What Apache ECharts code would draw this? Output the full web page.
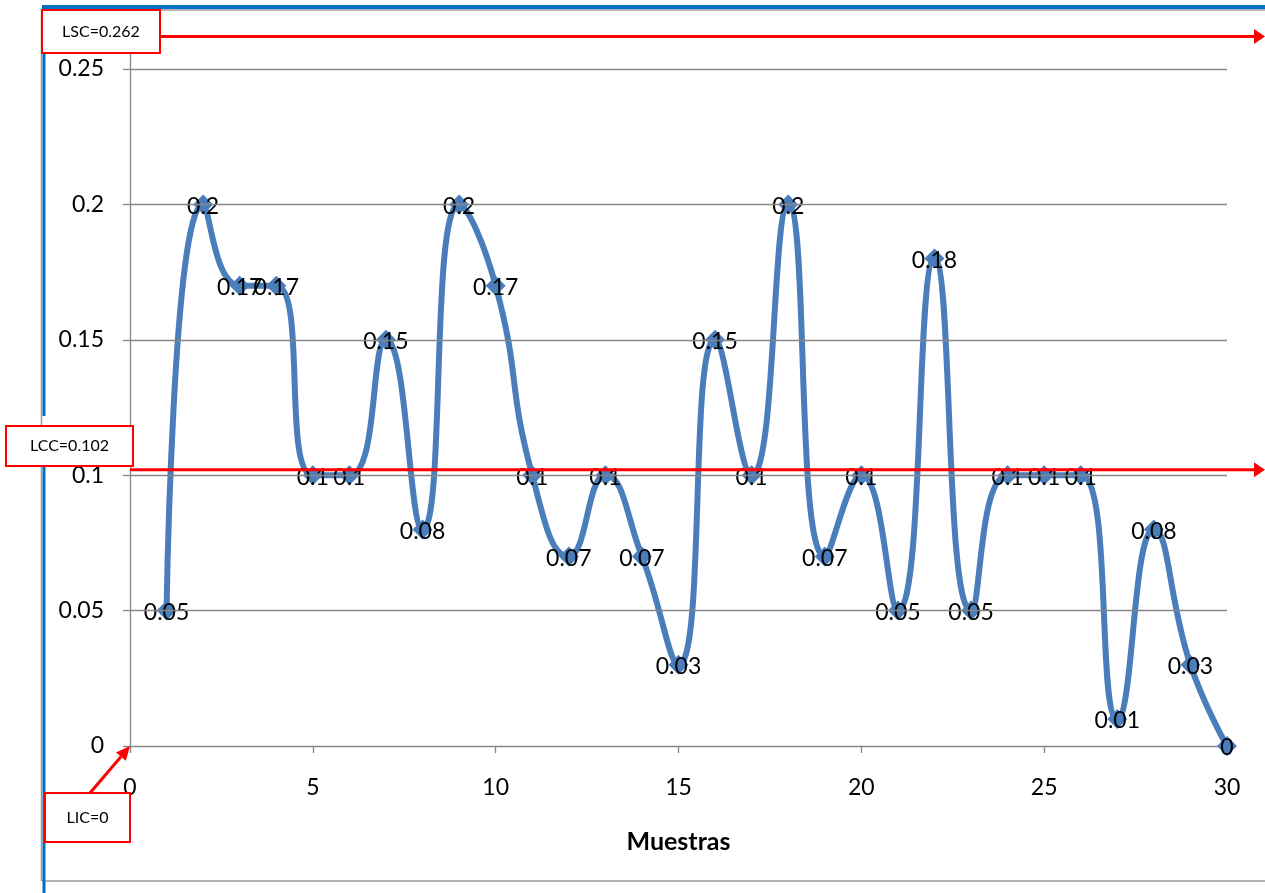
<!DOCTYPE html>
<html>
<head>
<meta charset="utf-8">
<title>Gráfico de control</title>
<script src="https://cdn.jsdelivr.net/npm/echarts@6/dist/echarts.min.js"></script>
<style>
  html, body { margin: 0; padding: 0; background: #ffffff; }
  #chart { width: 1265px; height: 893px; }
</style>
</head>
<body>
<div id="chart"></div>
<script>
// Muestras (eje X) y proporción observada en cada muestra
const muestras = [1, 2, 3, 4, 5, 6, 7, 8, 9, 10, 11, 12, 13, 14, 15,
                  16, 17, 18, 19, 20, 21, 22, 23, 24, 25, 26, 27, 28, 29, 30];
const proporciones = [0.05, 0.2, 0.17, 0.17, 0.1, 0.1, 0.15, 0.08, 0.2, 0.17,
                      0.1, 0.07, 0.1, 0.07, 0.03, 0.15, 0.1, 0.2, 0.07, 0.1,
                      0.05, 0.18, 0.05, 0.1, 0.1, 0.1, 0.01, 0.08, 0.03, 0];

// Límites de control
const limiteNombres = ['LSC', 'LCC', 'LIC'];
const limiteValores = [0.262, 0.102, 0];

// Escalas de los ejes
const ejeX = { min: 0, max: 30, interval: 5 };
const ejeY = { min: 0, max: 0.26, interval: 0.05 };
const lineasGuiaY = [0.05, 0.1, 0.15, 0.2, 0.25];

const FONT = 'Lato, "Liberation Sans", sans-serif';
const AZUL_SERIE = '#4A7EBB';
const ROJO = '#FF0000';
const GRIS = '#868686';

const chart = echarts.init(document.getElementById('chart'), null, { renderer: 'canvas' });

const puntos = muestras.map((m, i) => [m, proporciones[i]]);

chart.setOption({
  animation: false,
  backgroundColor: '#ffffff',
  textStyle: { fontFamily: FONT },
  grid: { left: 130, right: 38, top: 42, bottom: 147, containLabel: false },
  xAxis: {
    type: 'value',
    min: ejeX.min, max: ejeX.max, interval: ejeX.interval,
    name: 'Muestras',
    nameLocation: 'middle',
    nameGap: 83,
    nameTextStyle: { fontFamily: FONT, fontSize: 25, fontWeight: 'bold', color: '#000' },
    axisLine: { show: true, lineStyle: { color: GRIS, width: 1.3 } },
    axisTick: { show: true, length: 7, lineStyle: { color: GRIS, width: 1.3 } },
    splitLine: { show: false },
    axisLabel: { margin: 30, fontFamily: FONT, fontSize: 23, color: '#000' }
  },
  yAxis: {
    type: 'value',
    min: ejeY.min, max: ejeY.max, interval: ejeY.interval,
    axisLine: { show: true, lineStyle: { color: GRIS, width: 1.3 } },
    axisTick: { show: true, length: 7, lineStyle: { color: GRIS, width: 1.3 } },
    splitLine: { show: false },
    axisLabel: {
      margin: 26, fontFamily: FONT, fontSize: 23, color: '#000',
      showMaxLabel: false,
      formatter: v => String(+v.toFixed(2))
    }
  },
  series: [
    {
      // líneas de división horizontales
      name: 'guias',
      type: 'line',
      data: [],
      silent: true,
      z: 1,
      markLine: {
        silent: true,
        symbol: ['none', 'none'],
        label: { show: false },
        lineStyle: { color: GRIS, width: 1.3, type: 'solid' },
        data: lineasGuiaY.map(v => ({ yAxis: v }))
      }
    },
    {
      name: 'Proporción',
      type: 'line',
      data: puntos,
      smooth: 0.5,
      z: 3,
      symbol: 'diamond',
      symbolSize: [20, 20],
      showAllSymbol: true,
      lineStyle: { color: AZUL_SERIE, width: 6 },
      itemStyle: { color: AZUL_SERIE, borderWidth: 0 },
      label: {
        show: true,
        position: 'inside',
        offset: [0, 2],
        fontFamily: FONT,
        fontSize: 23,
        color: '#000',
        formatter: p => String(p.value[1])
      }
    }
  ]
});

// Anotaciones: marco, recuadros de límites y flechas
function construirAnotaciones() {
  const px = v => chart.convertToPixel({ xAxisIndex: 0 }, v);
  const py = v => chart.convertToPixel({ yAxisIndex: 0 }, v);
  const x0 = px(0);
  const xFin = 1265;
  const el = [];

  // marco del gráfico
  el.push({ type: 'line', shape: { x1: 41.5, y1: 9, x2: 41.5, y2: 881 }, style: { stroke: '#9a9a9a', lineWidth: 1.5 }, z: 50 });
  el.push({ type: 'line', shape: { x1: 42, y1: 10, x2: 1265, y2: 10 }, style: { stroke: '#9a9a9a', lineWidth: 1.5 }, z: 50 });
  el.push({ type: 'line', shape: { x1: 42, y1: 881, x2: 1265, y2: 881 }, style: { stroke: '#9a9a9a', lineWidth: 1.5 }, z: 50 });
  el.push({ type: 'line', shape: { x1: 42, y1: 7, x2: 1265, y2: 7 }, style: { stroke: '#0070C0', lineWidth: 4 }, z: 51 });
  el.push({ type: 'line', shape: { x1: 44, y1: 5, x2: 44, y2: 416 }, style: { stroke: '#0070C0', lineWidth: 3 }, z: 51 });
  el.push({ type: 'line', shape: { x1: 44, y1: 466, x2: 44, y2: 893 }, style: { stroke: '#0070C0', lineWidth: 3 }, z: 51 });

  // líneas horizontales LSC y LCC con punta de flecha
  [0, 1].forEach(i => {
    const y = py(limiteValores[i]);
    el.push({ type: 'line', shape: { x1: x0, y1: y, x2: xFin - 10, y2: y }, style: { stroke: ROJO, lineWidth: 3 }, z: 60 });
    el.push({ type: 'polygon', shape: { points: [[xFin - 11, y - 7.5], [xFin, y], [xFin - 11, y + 7.5]] }, style: { fill: ROJO }, z: 60 });
  });

  // flecha de LIC hacia el origen
  const oX = px(0), oY = py(limiteValores[2]);
  const sX = 90, sY = 793;
  const ang = Math.atan2(oY - sY, oX - sX);
  const hl = 14, hw = 6.5;
  const bx = oX - hl * Math.cos(ang), by = oY - hl * Math.sin(ang);
  el.push({ type: 'line', shape: { x1: sX, y1: sY, x2: bx, y2: by }, style: { stroke: ROJO, lineWidth: 3 }, z: 60 });
  el.push({ type: 'polygon', shape: { points: [
    [oX, oY],
    [bx + hw * Math.sin(ang), by - hw * Math.cos(ang)],
    [bx - hw * Math.sin(ang), by + hw * Math.cos(ang)]
  ] }, style: { fill: ROJO }, z: 60 });

  // recuadros de texto
  const cajas = [
    { x: 42, y: 10, w: 118, h: 43 },
    { x: 6, y: 426, w: 127, h: 40 },
    { x: 45, y: 793, w: 85, h: 49 }
  ];
  cajas.forEach((c, i) => {
    el.push({
      type: 'rect', z: 70,
      shape: { x: c.x, y: c.y, width: c.w, height: c.h },
      style: { fill: '#ffffff', stroke: ROJO, lineWidth: 2 }
    });
    el.push({
      type: 'text', z: 71,
      x: c.x + c.w / 2, y: c.y + c.h / 2,
      style: {
        text: limiteNombres[i] + '=' + limiteValores[i],
        fontFamily: FONT, fontSize: 16, fill: '#000',
        align: 'center', verticalAlign: 'middle'
      }
    });
  });

  chart.setOption({ graphic: { elements: el } });
}

construirAnotaciones();
</script>
</body>
</html>
